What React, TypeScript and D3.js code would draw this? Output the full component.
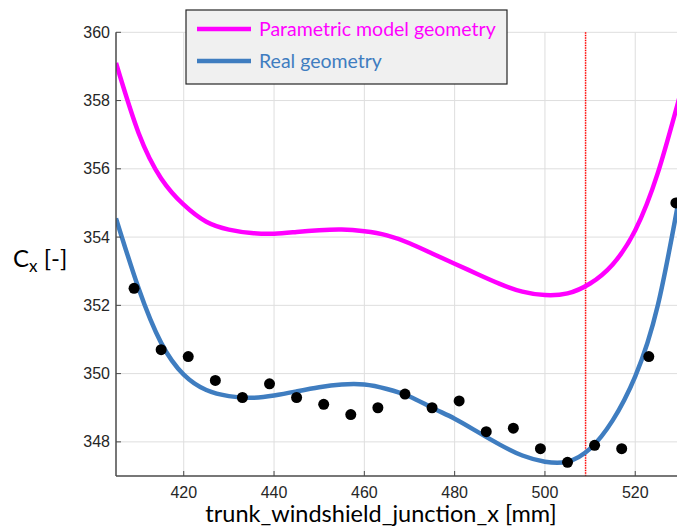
import React from "react";
import * as d3 from "d3";

const curveX = [405, 410, 415, 420, 425, 430, 435, 440, 445, 450, 455, 460, 465, 470, 475, 480, 485, 490, 495, 500, 505, 510, 515, 520, 525, 530];
const parametricY = [359.1, 357.05, 355.72, 354.95, 354.45, 354.22, 354.12, 354.1, 354.15, 354.2, 354.22, 354.17, 354.05, 353.82, 353.52, 353.22, 352.92, 352.63, 352.4, 352.3, 352.35, 352.64, 353.2, 354.2, 355.88, 358.2];
const realY = [354.55, 352.5, 350.9, 349.97, 349.52, 349.34, 349.29, 349.36, 349.48, 349.6, 349.68, 349.68, 349.55, 349.33, 349.0, 348.68, 348.3, 347.92, 347.6, 347.42, 347.42, 347.8, 348.63, 349.92, 352.0, 355.35];
const sampleX = [409, 415, 421, 427, 433, 439, 445, 451, 457, 463, 469, 475, 481, 487, 493, 499, 505, 511, 517, 523, 529];
const sampleY = [352.5, 350.7, 350.5, 349.8, 349.3, 349.7, 349.3, 349.1, 348.8, 349.0, 349.4, 349.0, 349.2, 348.3, 348.4, 347.8, 347.4, 347.9, 347.8, 350.5, 355.0];
const xTicks = [420, 440, 460, 480, 500, 520];
const yTicks = [348, 350, 352, 354, 356, 358, 360];
const markerX = 509;
const seriesNames = ["Parametric model geometry", "Real geometry"];

const MAGENTA = "#ff00ff";
const BLUE = "#3f7dc0";

export default function App() {
  const left = 116, right = 680.4, top = 32.3, bottom = 476;
  const x = d3.scaleLinear().domain([405, 530]).range([left, right]);
  const y = d3.scaleLinear().domain([347, 360]).range([bottom, top]);
  const line = d3
    .line<[number, number]>()
    .x((d) => x(d[0]))
    .y((d) => y(d[1]))
    .curve(d3.curveNatural);
  const pPath = line(curveX.map((v, i) => [v, parametricY[i]]) as [number, number][]) || "";
  const rPath = line(curveX.map((v, i) => [v, realY[i]]) as [number, number][]) || "";
  const sans = "Liberation Sans, Arial, sans-serif";
  const humanist = "Lato, 'Open Sans', sans-serif";
  return (
    <svg
      width={677}
      height={532}
      style={{ position: "absolute", left: 0, top: 0, display: "block", background: "#fff" }}
    >
      <defs>
        <clipPath id="plotclip">
          <rect x={left} y={top - 10} width={677 - left} height={bottom - top + 10} />
        </clipPath>
      </defs>
      {xTicks.map((t) => (
        <line key={"gx" + t} x1={x(t)} x2={x(t)} y1={top} y2={bottom} stroke="#dedede" strokeWidth={1} />
      ))}
      {yTicks.map((t) => (
        <line key={"gy" + t} x1={left} x2={677} y1={y(t)} y2={y(t)} stroke="#dedede" strokeWidth={1} />
      ))}
      <g clipPath="url(#plotclip)">
        <line
          x1={x(markerX)}
          x2={x(markerX)}
          y1={top}
          y2={bottom}
          stroke="#ff0000"
          strokeWidth={1.5}
          strokeDasharray="1.5,1"
        />
        <path d={pPath} fill="none" stroke={MAGENTA} strokeWidth={4.5} />
        <path d={rPath} fill="none" stroke={BLUE} strokeWidth={4.5} />
        {sampleX.map((v, i) => (
          <circle key={"pt" + i} cx={x(v)} cy={y(sampleY[i])} r={5.5} fill="#000" />
        ))}
      </g>
      <line x1={left} x2={left} y1={top} y2={bottom} stroke="#4a4a4a" strokeWidth={1.5} />
      <line x1={left} x2={677} y1={bottom} y2={bottom} stroke="#4a4a4a" strokeWidth={1.5} />
      {yTicks.map((t) => (
        <g key={"ty" + t}>
          <line x1={left} x2={left + 5} y1={y(t)} y2={y(t)} stroke="#4a4a4a" strokeWidth={1} />
          <text x={left - 6} y={y(t)} dy="0.35em" textAnchor="end" fontFamily={sans} fontSize={16} fill="#262626">
            {t}
          </text>
        </g>
      ))}
      {xTicks.map((t) => (
        <g key={"tx" + t}>
          <line x1={x(t)} x2={x(t)} y1={bottom} y2={bottom - 5} stroke="#4a4a4a" strokeWidth={1} />
          <text x={x(t)} y={bottom + 16} dy="0.35em" textAnchor="middle" fontFamily={sans} fontSize={16} fill="#262626">
            {t}
          </text>
        </g>
      ))}
      <text x={381} y={522} textAnchor="middle" fontFamily={humanist} fontSize={23.5} fill="#000">
        trunk_windshield_junction_x [mm]
      </text>
      <text x={13} y={267} fontFamily={humanist} fontSize={24} fill="#000">
        C<tspan fontSize={17} dy={5}>x</tspan>
        <tspan dy={-5}> [-]</tspan>
      </text>
      <rect x={186} y={10} width={321} height={74} fill="#f0f0f0" stroke="#262626" strokeWidth={1.2} />
      <line x1={197} x2={251} y1={29} y2={29} stroke={MAGENTA} strokeWidth={4.5} />
      <line x1={197} x2={251} y1={61} y2={61} stroke={BLUE} strokeWidth={4.5} />
      <text x={259} y={29} dy="0.35em" fontFamily={humanist} fontSize={19.5} fill={MAGENTA}>
        {seriesNames[0]}
      </text>
      <text x={259} y={61} dy="0.35em" fontFamily={humanist} fontSize={19.5} fill={BLUE}>
        {seriesNames[1]}
      </text>
    </svg>
  );
}
